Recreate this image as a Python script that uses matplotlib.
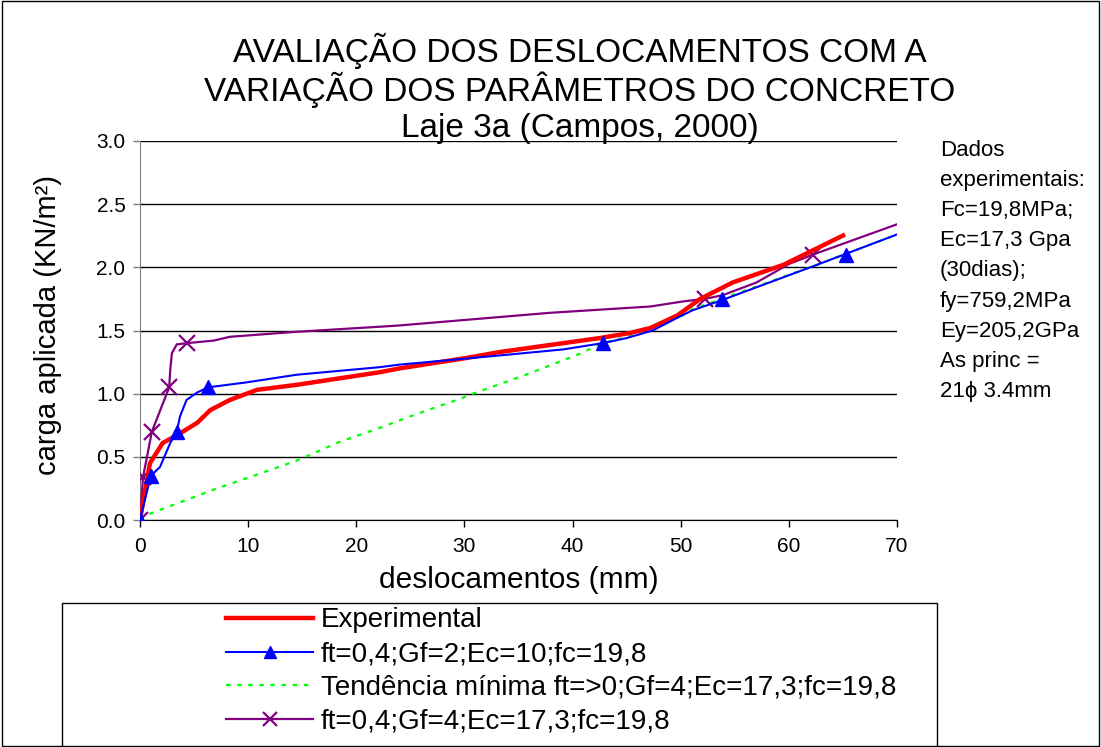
import matplotlib
matplotlib.use('Agg')
import matplotlib.pyplot as plt
from matplotlib.lines import Line2D
from matplotlib.patches import Rectangle

plt.rcParams['font.family'] = ['Liberation Sans', 'DejaVu Sans']

# experimental curve (mm, kN/m2)
exp_x = [0, 0.5, 0.92, 2.1, 3.4, 5.3, 6.5, 8.3, 10.8, 14.5, 22.2, 24, 30, 33.3, 42.5,
         45.3, 47.2, 49.7, 51.8, 54.8, 59.5, 65.2]
exp_y = [0, 0.25, 0.45, 0.61, 0.67, 0.77, 0.87, 0.95, 1.03, 1.07, 1.17, 1.20, 1.28, 1.33, 1.44,
         1.48, 1.52, 1.62, 1.75, 1.88, 2.02, 2.26]

# ft=0,4;Gf=2;Ec=10;fc=19,8
b_x = [0, 1.0, 1.85, 2.8, 3.4, 3.7, 4.3, 5.3, 6.3, 9.9, 14.5, 22.2, 24, 31.7, 39.1, 42.8,
       45, 47.4, 49.9, 51.1, 53.8, 62.6, 70.3]
b_y = [0, 0.35, 0.42, 0.61, 0.70, 0.82, 0.95, 1.01, 1.05, 1.09, 1.15, 1.21, 1.23, 1.29, 1.35, 1.40,
       1.44, 1.50, 1.61, 1.66, 1.74, 2.02, 2.27]
b_mx = [0, 1.0, 3.4, 6.3, 42.8, 53.8, 65.3]
b_my = [0, 0.35, 0.70, 1.05, 1.40, 1.75, 2.10]

# tendencia minima ft=>0;Gf=4;Ec=17,3;fc=19,8
g_x = [0, 0.92, 6.8, 14.5, 18.5, 22.2, 25.3, 29.6, 30.8, 36, 40.5, 42.8, 45, 47.2, 50.2,
       51.1, 53.8, 62.6, 70.3]
g_y = [0, 0.05, 0.24, 0.47, 0.62, 0.73, 0.83, 0.96, 1.00, 1.16, 1.31, 1.40, 1.45, 1.52, 1.62,
       1.67, 1.75, 2.02, 2.27]

# ft=0,4;Gf=4;Ec=17,3;fc=19,8
p_x = [0, 0.28, 1.1, 2.7, 2.8, 2.95, 3.4, 4.35, 6.8, 8.3, 14.5, 22.2, 24, 37.9, 47.2,
       50.2, 52.2, 53.9, 57, 60.1, 62.2, 70.3]
p_y = [0, 0.34, 0.70, 1.05, 1.19, 1.32, 1.39, 1.40, 1.42, 1.45, 1.49, 1.53, 1.54, 1.64, 1.69,
       1.73, 1.75, 1.78, 1.88, 2.03, 2.10, 2.35]
p_mx = [0, 0.28, 1.1, 2.7, 4.35, 52.2, 62.2]
p_my = [0, 0.34, 0.70, 1.05, 1.40, 1.75, 2.10]

labels = ['Experimental',
          'ft=0,4;Gf=2;Ec=10;fc=19,8',
          'Tendência mínima ft=>0;Gf=4;Ec=17,3;fc=19,8',
          'ft=0,4;Gf=4;Ec=17,3;fc=19,8']

info = ['Dados', 'experimentais:', 'Fc=19,8MPa;', 'Ec=17,3 Gpa', '(30dias);',
        'fy=759,2MPa', 'Ey=205,2GPa', 'As princ =', '21\u03d5 3.4mm']

fig = plt.figure(figsize=(11.01, 7.47), dpi=100)
W, H = 1101, 747
ax = fig.add_axes([140 / W, 1 - 520 / H, (897 - 140) / W, (520 - 141) / H])

ax.plot(g_x, g_y, color='#00FF00', lw=1.6, ls=(0, (2, 3)), zorder=2)
ax.plot(p_x, p_y, color='#800080', lw=1.6, zorder=3)
ax.plot(p_mx, p_my, ls='none', marker='x', ms=11, mew=1.6, color='#800080', zorder=3)
ax.plot(exp_x, exp_y, color='#FF0000', lw=3.2, zorder=4, solid_capstyle='butt')
ax.plot(b_x, b_y, color='#0000FF', lw=1.5, zorder=5)
ax.plot(b_mx, b_my, ls='none', marker='^', ms=10, color='#0000FF', zorder=5)

ax.set_xlim(0, 70)
ax.set_ylim(0, 3.0)
ax.set_xticks(range(0, 71, 10))
ax.set_yticks([0, 0.5, 1.0, 1.5, 2.0, 2.5, 3.0])
ax.set_yticklabels(['0.0', '0.5', '1.0', '1.5', '2.0', '2.5', '3.0'])
ax.yaxis.grid(True, color='black', lw=1.0)
ax.set_axisbelow(True)
for s in ('top', 'right'):
    ax.spines[s].set_visible(False)
ax.spines['left'].set_color('#808080')
ax.spines['bottom'].set_color('black')
ax.tick_params(axis='both', labelsize=15, length=5, width=1, color='#808080')
ax.tick_params(axis='y', pad=5.5)
ax.tick_params(axis='x', color='black', pad=7)
ax.set_xlabel('deslocamentos (mm)', fontsize=21.5, va='center')
ax.xaxis.set_label_coords(0.5, -0.158)
ax.set_ylabel('carga aplicada (KN/m²)', fontsize=21, va='center')
ax.yaxis.set_label_coords(-0.1215, 0.514)

title = ['AVALIAÇÃO DOS DESLOCAMENTOS COM A', 'VARIAÇÃO DOS PARÂMETROS DO CONCRETO',
         'Laje 3a (Campos, 2000)']
for i, t in enumerate(title):
    fig.text(580 / W, 1 - (51 + 39 * i) / H, t, fontsize=24, ha='center', va='center')

for i, t in enumerate(info):
    fig.text(940 / W, 1 - (150 + 30.2 * i) / H, t, fontsize=16, ha='left', va='center')

# legend frame spanning the lower part of the figure
fig.patches.append(Rectangle((62 / W, 0), (937 - 62) / W, 1 - 603 / H, transform=fig.transFigure,
                             fill=False, edgecolor='black', lw=1.0))
handles = [Line2D([], [], color='#FF0000', lw=3.2),
           Line2D([], [], color='#0000FF', lw=1.5, marker='^', ms=9),
           Line2D([], [], color='#00FF00', lw=1.6, ls=(0, (2, 3))),
           Line2D([], [], color='#800080', lw=1.6, marker='x', ms=10, mew=1.6)]
fig.legend(handles, labels, loc='upper left', bbox_to_anchor=(207 / W, 1 - 588 / H),
           frameon=False, fontsize=20, handlelength=3.1, handletextpad=0.3,
           labelspacing=0.28, borderpad=0.2)

# outer border
fig.patches.append(Rectangle((0.002, 0.002), 0.996, 0.996, transform=fig.transFigure,
                             fill=False, edgecolor='black', lw=1.0))

fig.savefig('out.png', dpi=100)
